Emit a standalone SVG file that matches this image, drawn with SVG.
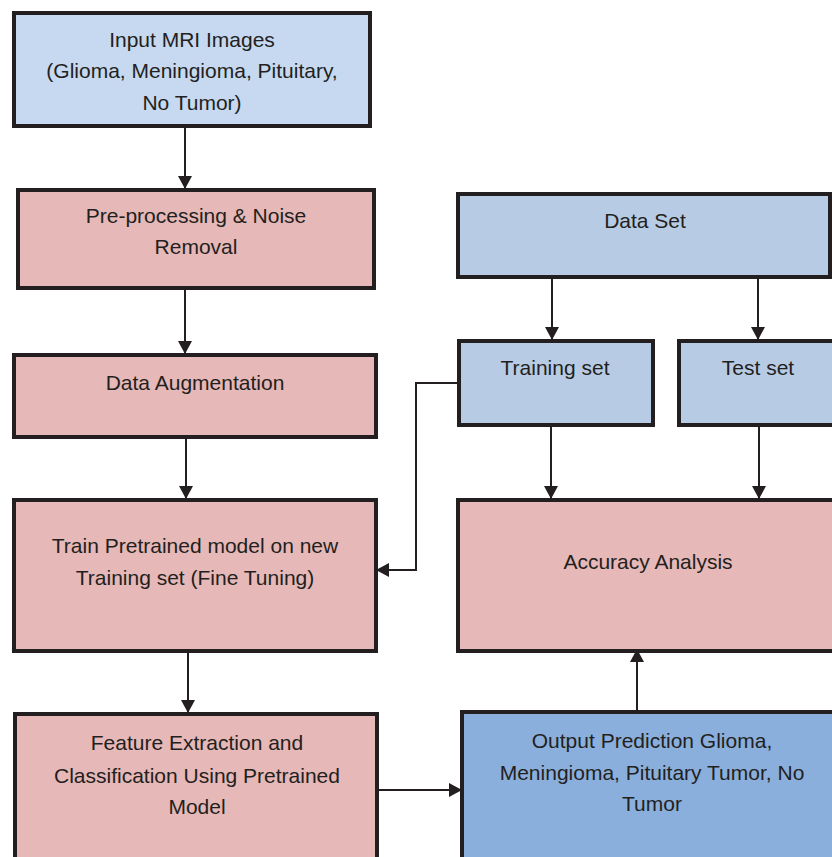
<svg xmlns="http://www.w3.org/2000/svg" width="832" height="857" viewBox="0 0 832 857">
<defs>
<style>
.box{stroke:#231f20;stroke-width:4;stroke-linejoin:miter}
.lb{fill:#c6d9f0}
.db{fill:#b7cce4}
.pk{fill:#e6b8b7}
.ob{fill:#8aafdc}
text{font-family:"Liberation Sans",Arial,sans-serif;font-size:21px;fill:#231f20;text-anchor:middle}
.cn{fill:none;stroke:#231f20;stroke-width:2}
</style>
<marker id="ah" markerUnits="userSpaceOnUse" markerWidth="16" markerHeight="16" refX="14" refY="8" orient="auto">
<path d="M1,1 L14,8 L1,15 z" fill="#231f20"/>
</marker>
</defs>
<rect width="832" height="857" fill="#ffffff"/>
<g id="input">
<rect class="box lb" x="14" y="13" width="356" height="113"/>
<text x="192" y="47">Input MRI Images</text>
<text x="192" y="78">(Glioma, Meningioma, Pituitary,</text>
<text x="192" y="110">No Tumor)</text>
</g>
<g id="preprocess">
<rect class="box pk" x="18" y="190" width="356" height="98"/>
<text x="196" y="223">Pre-processing &amp; Noise</text>
<text x="196" y="254">Removal</text>
</g>
<g id="augment">
<rect class="box pk" x="14" y="355" width="362" height="82"/>
<text x="195" y="390">Data Augmentation</text>
</g>
<g id="train">
<rect class="box pk" x="14" y="500" width="362" height="151"/>
<text x="195" y="553">Train Pretrained model on new</text>
<text x="195" y="585">Training set (Fine Tuning)</text>
</g>
<g id="feature">
<rect class="box pk" x="15" y="714" width="362" height="160"/>
<text x="197" y="750">Feature Extraction and</text>
<text x="197" y="783">Classification Using Pretrained</text>
<text x="197" y="814">Model</text>
</g>
<g id="dataset">
<rect class="box db" x="458" y="194" width="372" height="83"/>
<text x="645" y="228">Data Set</text>
</g>
<g id="trainingset">
<rect class="box db" x="459" y="341" width="194" height="84"/>
<text x="555" y="375">Training set</text>
</g>
<g id="testset">
<rect class="box db" x="679" y="341" width="170" height="84"/>
<text x="758" y="375">Test set</text>
</g>
<g id="accuracy">
<rect class="box pk" x="458" y="500" width="390" height="151"/>
<text x="648" y="569">Accuracy Analysis</text>
</g>
<g id="output">
<rect class="box ob" x="462" y="712" width="390" height="160"/>
<text x="652" y="748">Output Prediction Glioma,</text>
<text x="652" y="780">Meningioma, Pituitary Tumor, No</text>
<text x="652" y="811">Tumor</text>
</g>
<g id="connectors">
<line class="cn" x1="185" y1="128" x2="185" y2="189" marker-end="url(#ah)"/>
<line class="cn" x1="185" y1="290" x2="185" y2="354" marker-end="url(#ah)"/>
<line class="cn" x1="186" y1="439" x2="186" y2="499" marker-end="url(#ah)"/>
<line class="cn" x1="188" y1="653" x2="188" y2="713" marker-end="url(#ah)"/>
<line class="cn" x1="375" y1="790" x2="462" y2="790" marker-end="url(#ah)"/>
<line class="cn" x1="637" y1="710" x2="637" y2="649" marker-end="url(#ah)"/>
<line class="cn" x1="552" y1="279" x2="552" y2="340" marker-end="url(#ah)"/>
<line class="cn" x1="758" y1="279" x2="758" y2="340" marker-end="url(#ah)"/>
<line class="cn" x1="551" y1="427" x2="551" y2="499" marker-end="url(#ah)"/>
<line class="cn" x1="759" y1="427" x2="759" y2="499" marker-end="url(#ah)"/>
<polyline class="cn" points="457,383 416,383 416,570 376,570" marker-end="url(#ah)"/>
</g>
</svg>
